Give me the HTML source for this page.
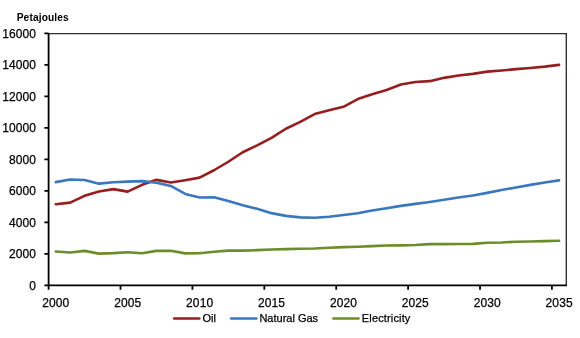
<!DOCTYPE html>
<html><head><meta charset="utf-8"><style>
html,body{margin:0;padding:0;background:#fff;width:580px;height:338px;overflow:hidden}
svg{position:absolute;left:0;top:0;display:block}
.t{font-family:"Liberation Sans",sans-serif;will-change:transform}
.t text{fill:#000;stroke:#000;stroke-width:0.25px}
</style></head><body>
<svg width="580" height="338" viewBox="0 0 580 338"><path d="M48.6,33.6 H566.3 V285.45" fill="none" stroke="#2e2e2e" stroke-width="1.35"/><polyline points="55.79,204.25 70.17,202.65 84.55,195.85 98.93,191.45 113.31,189.15 127.69,191.65 142.07,184.85 156.45,179.85 170.83,182.55 185.22,180.25 199.60,177.65 213.98,170.25 228.36,161.75 242.74,152.25 257.12,145.35 271.50,137.85 285.88,128.75 300.26,121.85 314.64,114.05 329.02,110.35 343.40,106.85 357.78,99.05 372.16,94.15 386.54,90.05 400.92,84.55 415.30,81.95 429.68,81.15 444.07,77.85 458.45,75.45 472.83,73.85 487.21,71.65 501.59,70.45 515.97,69.15 530.35,68.05 544.73,66.65 559.11,64.85" fill="none" stroke="#951e1e" stroke-width="2.6" stroke-linejoin="round" stroke-linecap="round"/><polyline points="55.79,182.15 70.17,179.45 84.55,180.05 98.93,183.65 113.31,182.25 127.69,181.65 142.07,181.15 156.45,182.75 170.83,185.95 185.22,193.95 199.60,197.55 213.98,197.25 228.36,201.05 242.74,205.35 257.12,208.85 271.50,213.15 285.88,215.85 300.26,217.35 314.64,217.75 329.02,216.75 343.40,214.95 357.78,213.25 372.16,210.45 386.54,208.25 400.92,205.85 415.30,203.85 429.68,201.95 444.07,199.75 458.45,197.55 472.83,195.45 487.21,192.85 501.59,190.05 515.97,187.45 530.35,184.85 544.73,182.55 559.11,180.35" fill="none" stroke="#3b77bc" stroke-width="2.6" stroke-linejoin="round" stroke-linecap="round"/><polyline points="55.79,251.45 70.17,252.45 84.55,250.85 98.93,253.65 113.31,253.15 127.69,252.25 142.07,253.25 156.45,250.85 170.83,250.75 185.22,253.35 199.60,253.25 213.98,251.75 228.36,250.65 242.74,250.65 257.12,250.15 271.50,249.55 285.88,249.15 300.26,248.75 314.64,248.45 329.02,247.75 343.40,247.15 357.78,246.75 372.16,246.15 386.54,245.55 400.92,245.35 415.30,245.05 429.68,244.15 444.07,244.15 458.45,243.95 472.83,243.85 487.21,242.75 501.59,242.45 515.97,241.75 530.35,241.45 544.73,241.15 559.11,240.75" fill="none" stroke="#6d8c2a" stroke-width="2.6" stroke-linejoin="round" stroke-linecap="round"/><path d="M48.6,32.95 V289.65 M44.4,285.45 H566.9" fill="none" stroke="#000" stroke-width="1.8"/><path d="M44.4,253.95 H48.6M44.4,222.45 H48.6M44.4,190.95 H48.6M44.4,159.45 H48.6M44.4,127.95 H48.6M44.4,96.45 H48.6M44.4,64.95 H48.6M44.4,33.45 H48.6" stroke="#000" stroke-width="1.8"/><path d="M120.50,285.45 V289.65M192.41,285.45 V289.65M264.31,285.45 V289.65M336.21,285.45 V289.65M408.11,285.45 V289.65M480.02,285.45 V289.65M551.92,285.45 V289.65" stroke="#000" stroke-width="1.8"/><path d="M174.2,318.5 H199.3" stroke="#951e1e" stroke-width="2.6" stroke-linecap="round"/><path d="M231.2,318.5 H256.4" stroke="#3b77bc" stroke-width="2.6" stroke-linecap="round"/><path d="M333.4,318.5 H358.5" stroke="#6d8c2a" stroke-width="2.6" stroke-linecap="round"/></svg>
<svg class="t" width="580" height="338" viewBox="0 0 580 338"><text x="36.00" y="289.65" text-anchor="end" font-size="12.0" letter-spacing="0.1">0</text><text x="36.00" y="258.15" text-anchor="end" font-size="12.0" letter-spacing="0.1">2000</text><text x="36.00" y="226.65" text-anchor="end" font-size="12.0" letter-spacing="0.1">4000</text><text x="36.00" y="195.15" text-anchor="end" font-size="12.0" letter-spacing="0.1">6000</text><text x="36.00" y="163.65" text-anchor="end" font-size="12.0" letter-spacing="0.1">8000</text><text x="36.00" y="132.15" text-anchor="end" font-size="12.0" letter-spacing="0.1">10000</text><text x="36.00" y="100.65" text-anchor="end" font-size="12.0" letter-spacing="0.1">12000</text><text x="36.00" y="69.15" text-anchor="end" font-size="12.0" letter-spacing="0.1">14000</text><text x="36.00" y="37.65" text-anchor="end" font-size="12.0" letter-spacing="0.1">16000</text><text x="55.84" y="306.6" text-anchor="middle" font-size="12.0" letter-spacing="0.1">2000</text><text x="127.74" y="306.6" text-anchor="middle" font-size="12.0" letter-spacing="0.1">2005</text><text x="199.65" y="306.6" text-anchor="middle" font-size="12.0" letter-spacing="0.1">2010</text><text x="271.55" y="306.6" text-anchor="middle" font-size="12.0" letter-spacing="0.1">2015</text><text x="343.45" y="306.6" text-anchor="middle" font-size="12.0" letter-spacing="0.1">2020</text><text x="415.35" y="306.6" text-anchor="middle" font-size="12.0" letter-spacing="0.1">2025</text><text x="487.26" y="306.6" text-anchor="middle" font-size="12.0" letter-spacing="0.1">2030</text><text x="559.16" y="306.6" text-anchor="middle" font-size="12.0" letter-spacing="0.1">2035</text><text x="16.7" y="20.6" font-size="10.2" font-weight="bold" letter-spacing="0.12" style="stroke-width:0">Petajoules</text><text x="202.6" y="321.9" font-size="11" letter-spacing="-0.1">Oil</text><text x="259.4" y="321.9" font-size="11" letter-spacing="0.0">Natural Gas</text><text x="361.8" y="321.9" font-size="11" letter-spacing="0.15">Electricity</text></svg>
</body></html>
